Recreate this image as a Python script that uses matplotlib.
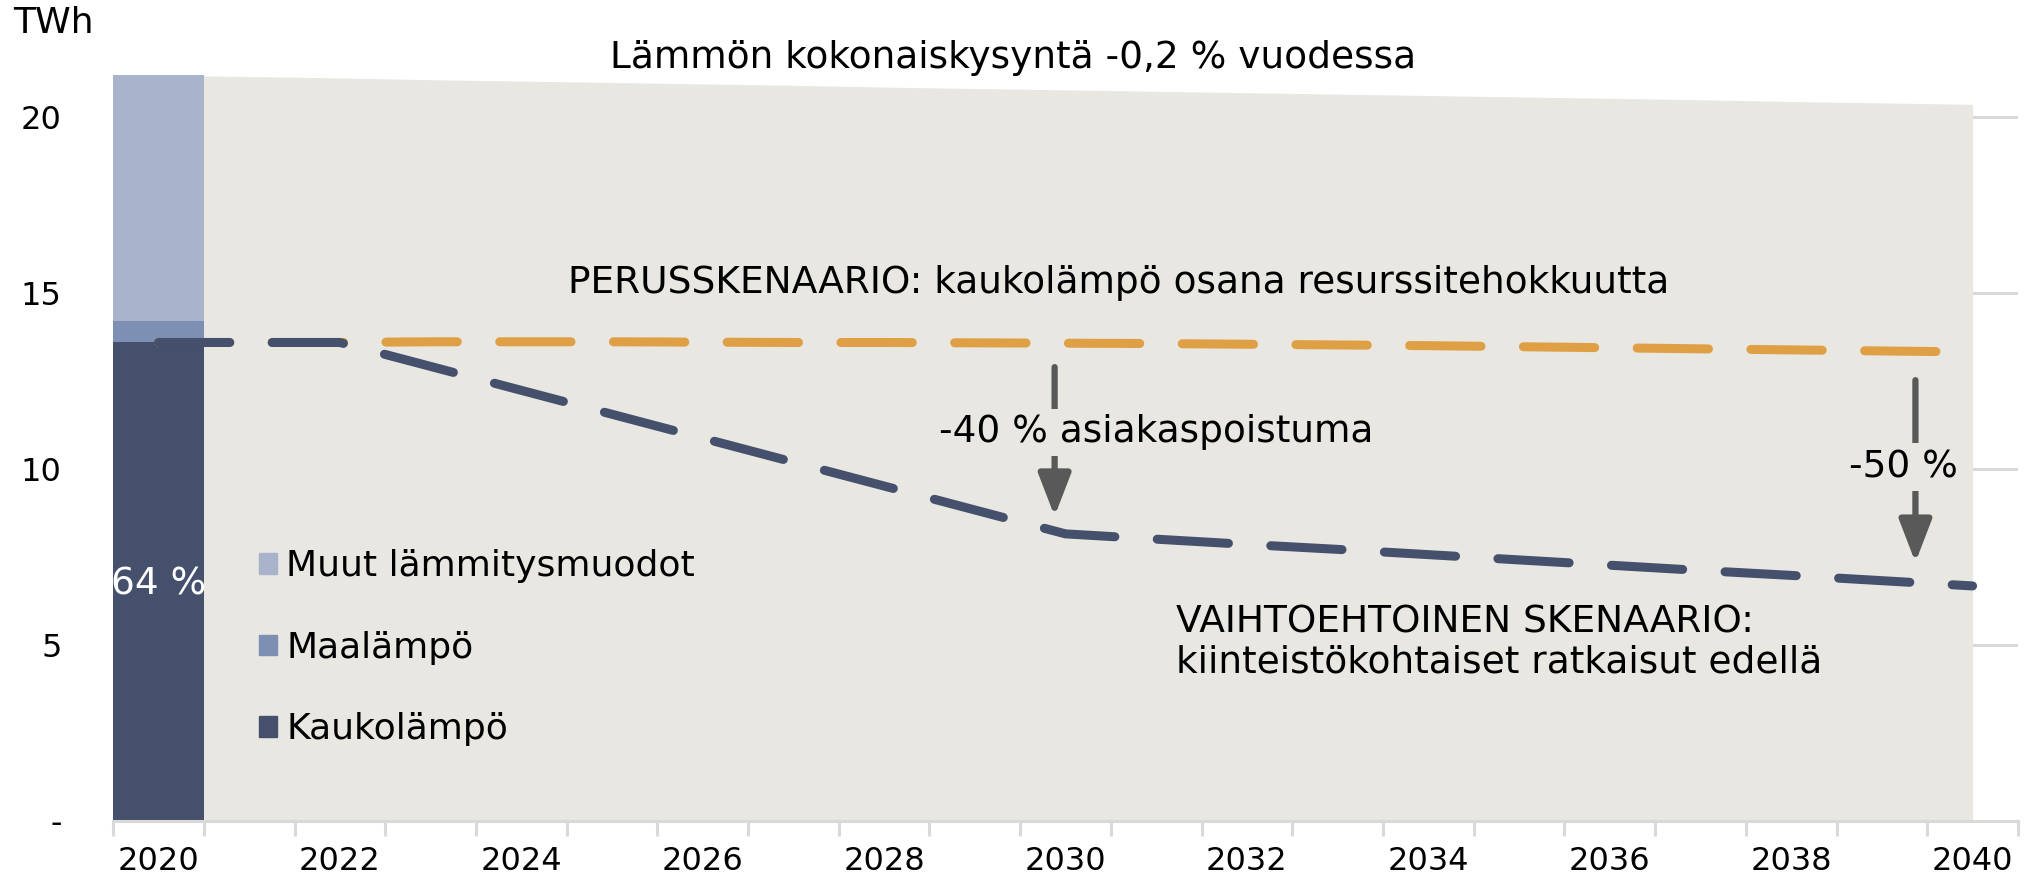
import matplotlib
matplotlib.use('Agg')
import matplotlib.pyplot as plt
from matplotlib.patches import Patch
import numpy as np

plt.rc('font', family='DejaVu Sans')

years = list(range(2020, 2041))

# 2020 breakdown of heat demand, TWh
bar_labels = ['Kaukolämpö', 'Maalämpö', 'Muut lämmitysmuodot']
bar_values = [13.6, 0.6, 7.0]
bar_share = '64 %'

# total heat demand, -0.2 % per year
total_demand = [21.20, 21.16, 21.12, 21.07, 21.03, 20.99, 20.95, 20.91, 20.86, 20.82,
                20.78, 20.74, 20.70, 20.66, 20.62, 20.58, 20.54, 20.50, 20.45, 20.41, 20.37]

# district heat, base scenario
base_scenario = [13.60, 13.60, 13.60, 13.62, 13.62, 13.62, 13.61, 13.60, 13.60, 13.59,
                 13.58, 13.57, 13.55, 13.53, 13.51, 13.48, 13.45, 13.42, 13.39, 13.36, 13.33]

# district heat, alternative scenario
alt_scenario = [13.60, 13.60, 13.60, 12.92, 12.24, 11.56, 10.88, 10.20, 9.52, 8.84,
                8.16, 8.01, 7.86, 7.72, 7.57, 7.42, 7.27, 7.12, 6.98, 6.83, 6.68]

yticks = [0, 5, 10, 15, 20]
yticklabels = ['-', '5', '10', '15', '20']

NAVY = '#44506c'
MID = '#7d8fb3'
LIGHT = '#a9b4cc'
AREA = '#e8e7e2'
ORANGE = '#dfa045'
ARROW = '#595959'
GRID = '#d9d9d9'
FS = 27
TICK_FS = 23
LEGEND_FS = 26

x = np.arange(len(years))

fig = plt.figure(figsize=(20.34, 8.86), dpi=100)
ax = fig.add_axes([0.0556, 0.0734, 0.9365, 0.8736])

ax.fill_between(x, 0, total_demand, color=AREA, lw=0, zorder=1)

bottom = 0
for value, color in zip(bar_values, [NAVY, MID, LIGHT]):
    ax.bar(x[0], value, width=1.0, bottom=bottom, color=color, lw=0, zorder=2)
    bottom += value
ax.text(x[0], 6.73, bar_share, color='white', fontsize=FS, ha='center', va='center', zorder=3)

dash = (0, (7.9, 4.7))
ax.plot(x, base_scenario, color=ORANGE, lw=6.5, ls=dash, dash_capstyle='round', zorder=4)
ax.plot(x, alt_scenario, color=NAVY, lw=6.5, ls=dash, dash_capstyle='round', zorder=5)

arrow = dict(arrowstyle='-|>,head_length=2.6,head_width=1.0', color=ARROW, lw=4.5,
             shrinkA=0, shrinkB=0)
ax.annotate('', xy=(9.88, 8.66), xytext=(9.88, 12.9), arrowprops=arrow, zorder=6)
ax.annotate('', xy=(19.37, 7.35), xytext=(19.37, 12.53), arrowprops=arrow, zorder=6)

box = dict(facecolor=AREA, edgecolor='none', pad=4)
ax.text(11.0, 11.05, '-40 % asiakaspoistuma', fontsize=FS, ha='center', va='center',
        bbox=box, zorder=7)
ax.text(19.24, 10.06, '-50 %', fontsize=FS, ha='center', va='center', bbox=box, zorder=7)

ax.text(9.42, 21.68, 'Lämmön kokonaiskysyntä -0,2 % vuodessa', fontsize=FS,
        ha='center', va='center', clip_on=False)
ax.text(10.59, 15.28, 'PERUSSKENAARIO: kaukolämpö osana resurssitehokkuutta', fontsize=FS,
        ha='center', va='center')
ax.text(11.22, 5.07, 'VAIHTOEHTOINEN SKENAARIO:\nkiinteistökohtaiset ratkaisut edellä',
        fontsize=FS, ha='left', va='center', linespacing=1.15)
fig.text(13 / 2034, 1 - 23 / 886, 'TWh', fontsize=LEGEND_FS, ha='left', va='center')

handles = [Patch(color=c) for c in [LIGHT, MID, NAVY]]
ax.legend(handles, bar_labels[::-1], loc='upper left', bbox_to_anchor=(0.069, 0.37),
          frameon=False, fontsize=LEGEND_FS, handlelength=0.5, handleheight=0.5,
          handletextpad=0.25, labelspacing=1.32, borderaxespad=0)

ax.set_xlim(-0.5, len(years) - 0.5)
ax.set_ylim(0, 22)
ax.set_xticks(x[::2])
ax.set_xticklabels([str(y) for y in years[::2]])
ax.set_xticks(np.arange(len(years) + 1) - 0.5, minor=True)
ax.tick_params(axis='x', which='major', length=0, pad=18, labelsize=TICK_FS)
ax.tick_params(axis='x', which='minor', length=11, width=2.2, color=GRID)
ax.set_yticks(yticks)
ax.set_yticklabels(yticklabels)
ax.tick_params(axis='y', length=0, pad=37, labelsize=TICK_FS)
ax.yaxis.grid(True, color=GRID, lw=2.2, zorder=0)
ax.set_axisbelow(True)

for side in ['top', 'right', 'left']:
    ax.spines[side].set_visible(False)
ax.spines['bottom'].set_color(GRID)
ax.spines['bottom'].set_linewidth(2.2)

fig.savefig('out.png', dpi=100)
